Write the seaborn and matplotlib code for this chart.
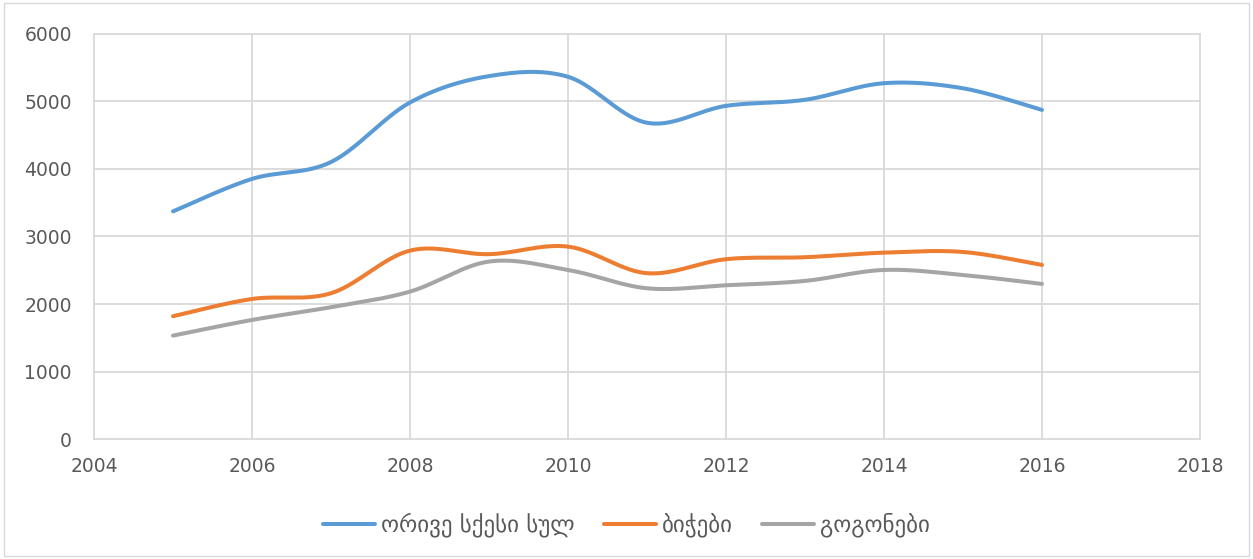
import numpy as np
import pandas as pd
import matplotlib
matplotlib.use("Agg")
import matplotlib.pyplot as plt
import seaborn as sns
from matplotlib.patches import Rectangle

# data
years = [2005, 2006, 2007, 2008, 2009, 2010, 2011, 2012, 2013, 2014, 2015, 2016]
both_sexes = [3370, 3850, 4100, 4980, 5370, 5360, 4680, 4930, 5020, 5265, 5190, 4870]
boys = [1820, 2075, 2160, 2790, 2737, 2849, 2456, 2663, 2692, 2760, 2770, 2578]
girls = [1533, 1765, 1953, 2184, 2628, 2504, 2233, 2278, 2342, 2504, 2430, 2297]

labels = ["ორივე სქესი სულ", "ბიჭები", "გოგონები"]
colors = ["#5B9BD5", "#ED7D31", "#A5A5A5"]


def smooth(x, y, n=40):
    # excel-like smoothed line (catmull-rom bezier)
    x = np.asarray(x, float)
    y = np.asarray(y, float)
    px = np.concatenate([[x[0]], x, [x[-1]]])
    py = np.concatenate([[y[0]], y, [y[-1]]])
    xs, ys = [], []
    t = np.linspace(0, 1, n)
    for i in range(1, len(px) - 2):
        p0 = np.array([px[i], py[i]])
        p3 = np.array([px[i + 1], py[i + 1]])
        p1 = p0 + (np.array([px[i + 1], py[i + 1]]) - np.array([px[i - 1], py[i - 1]])) / 6
        p2 = p3 - (np.array([px[i + 2], py[i + 2]]) - np.array([px[i], py[i]])) / 6
        b = ((1 - t) ** 3)[:, None] * p0 + (3 * (1 - t) ** 2 * t)[:, None] * p1 \
            + (3 * (1 - t) * t ** 2)[:, None] * p2 + (t ** 3)[:, None] * p3
        xs.extend(b[:, 0])
        ys.extend(b[:, 1])
    return xs, ys


sns.set_style("white")
plt.rcParams['font.family'] = ['DejaVu Sans']

fig = plt.figure(figsize=(12.53, 5.59), dpi=100)
ax = fig.add_axes([94 / 1253, 1 - 439.3 / 559, (1200 - 94) / 1253, (439.3 - 33.5) / 559])

frames = []
for lab, vals in zip(labels, [both_sexes, boys, girls]):
    xs, ys = smooth(years, vals)
    frames.append(pd.DataFrame({"year": xs, "value": ys, "series": lab}))
df = pd.concat(frames, ignore_index=True)

sns.lineplot(data=df, x="year", y="value", hue="series", palette=colors,
             hue_order=labels, sort=False, estimator=None, linewidth=2.9,
             ax=ax, legend=True)

ax.set_xlim(2004, 2018)
ax.set_ylim(0, 6000)
ax.set_xticks(range(2004, 2019, 2))
ax.set_yticks(range(0, 6001, 1000))
ax.grid(True, color="#D9D9D9", linewidth=1.3)
for gl in ax.get_xgridlines() + ax.get_ygridlines():
    gl.set_clip_on(False)
for s in ax.spines.values():
    s.set_visible(False)
ax.tick_params(axis="both", length=0, labelsize=13.5, labelcolor="#595959")
ax.tick_params(axis="x", pad=13)
ax.tick_params(axis="y", pad=16)
ax.set_xlabel("")
ax.set_ylabel("")

handles, _ = ax.get_legend_handles_labels()
ax.get_legend().remove()
fig.legend(handles, labels, loc="center", bbox_to_anchor=(0.5, 1 - 525 / 559),
           ncol=3, frameon=False, fontsize=16.5, labelcolor="#595959",
           handlelength=2.25, handletextpad=0.26, columnspacing=1.3)

fig.patches.append(Rectangle((4 / 1253, 3 / 559), 1245 / 1253, 553 / 559,
                             transform=fig.transFigure, fill=False,
                             edgecolor="#D9D9D9", linewidth=1))

fig.savefig("out.png", dpi=100)
